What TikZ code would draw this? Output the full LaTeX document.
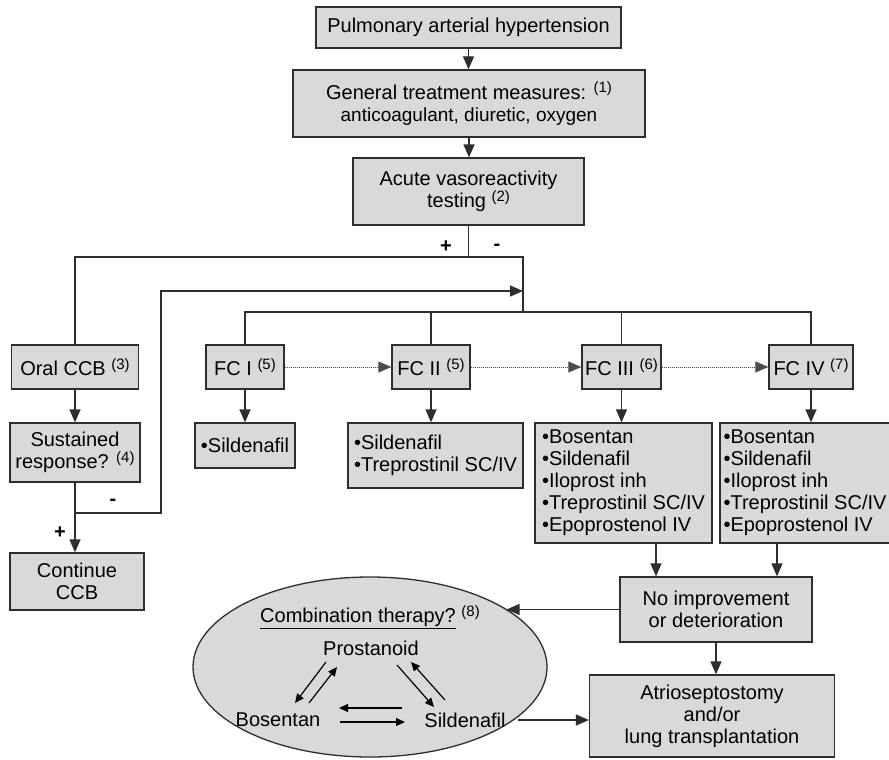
\documentclass[tikz,border=0pt]{standalone}
\usepackage{fontspec}
\setmainfont{Liberation Sans}
\usetikzlibrary{arrows.meta,shapes.geometric,calc}
\definecolor{boxgray}{HTML}{D9D9D9}
\definecolor{linegray}{HTML}{2E2E2E}
\newcommand{\fsz}{\fontsize{20}{22}\selectfont}
\newcommand{\sups}[1]{\raisebox{6.5pt}{\fontsize{15}{15}\selectfont #1}}
\begin{document}
\begin{tikzpicture}[x=1pt,y=-1pt,
  box/.style={draw=linegray, line width=1.3pt, fill=boxgray, inner sep=0pt, align=center, font=\fsz},
  conn/.style={draw=linegray, line width=1.3pt},
  arr/.style={conn, -{Triangle[length=13pt,width=11pt]}},
  dots/.style={draw=black!70, line width=0.8pt, dash pattern=on 1pt off 1pt, -{Triangle[length=13pt,width=11pt]}},
  small/.style={draw=black, line width=1.2pt, -{Triangle[length=9pt,width=8pt]}},
  lbl/.style={font=\fsz, inner sep=0pt}]
\clip (0,0) rectangle (889,760);
\fill[white] (0,0) rectangle (889,760);

% top chain
\node[box, minimum width=305, minimum height=41] (pah) at (468.5,27.5) {Pulmonary arterial hypertension};
\node[box, minimum width=352, minimum height=67] (gen) at (469,103.5) {General treatment measures: \sups{(1)}\\{\fontsize{19}{22}\selectfont anticoagulant, diuretic, oxygen}};
\node[box, minimum width=231, minimum height=67] (avt) at (468.5,191.5) {Acute vasoreactivity\\testing \sups{(2)}};

\coordinate (j0) at (468.5,257);
\coordinate (jr) at (523,257);
\coordinate (bus) at (523,312);
\coordinate (ret) at (523,291);
\coordinate (lpc) at (161,291);
\coordinate (lp) at (75,513);

% left branch
\node[box, minimum width=127, minimum height=44] (occ) at (75,367) {Oral CCB \sups{(3)}};
\node[box, minimum width=130, minimum height=59] (sus) at (75,452.5) {Sustained\\response? \sups{(4)}};
\node[box, minimum width=134, minimum height=57] (cont) at (77,581.5) {Continue\\CCB};

% FC row
\node[box, minimum width=78, minimum height=44] (fc1) at (245,367) {FC I \sups{(5)}};
\node[box, minimum width=100, minimum height=45] (d1) at (245,445.5) {•Sildenafil};
\node[box, minimum width=78, minimum height=44] (fc2) at (431,367) {FC II \sups{(5)}};
\node[box, minimum width=175, minimum height=65, align=left] (d2) at (435.5,455.5) {•Sildenafil\\•Treprostinil SC/IV};
\node[box, minimum width=79, minimum height=44] (fc3) at (621.5,367) {FC III \sups{(6)}};
\node[box, minimum width=177, minimum height=120, align=left] (d3) at (623.5,483) {•Bosentan\\•Sildenafil\\•Iloprost inh\\•Treprostinil SC/IV\\•Epoprostenol IV};
\node[box, minimum width=84, minimum height=44] (fc4) at (811,367) {FC IV \sups{(7)}};
\node[box, minimum width=170, minimum height=120, align=left] (d4) at (805,483) {•Bosentan\\•Sildenafil\\•Iloprost inh\\•Treprostinil SC/IV\\•Epoprostenol IV};

% bottom
\node[box, minimum width=192, minimum height=65] (noi) at (716,609.5) {No improvement\\or deterioration};
\node[box, minimum width=245, minimum height=82] (atr) at (712,716) {Atrioseptostomy\\and/or\\lung transplantation};
\node[draw=linegray, line width=1.3pt, fill=boxgray, ellipse, minimum width=354, minimum height=180, inner sep=0pt] (ell) at (370,667) {};
\node[lbl] (ct) at (370,617) {\underline{Combination therapy?} \sups{(8)}};
\node[lbl] (pro) at (371,648) {Prostanoid};
\node[lbl] (bos) at (278,720) {Bosentan};
\node[lbl] (sil) at (465,720) {Sildenafil};

% labels
\node[lbl, font=\fsz\bfseries] (lp1) at (446,247) {+};
\node[lbl, font=\fsz\bfseries] (lm1) at (497,247) {-};
\node[lbl, font=\fsz\bfseries] (lm2) at (113,502) {-};
\node[lbl, font=\fsz\bfseries] (lp2) at (60,533) {+};

% connectors
\draw[arr] (pah.south) -- (pah.south |- gen.north);
\draw[arr] (gen.south) -- (gen.south |- avt.north);
\draw[conn] (avt.south) -- (j0);
\draw[conn] (occ.north) |- (jr) -- (bus);
\draw[conn] (fc1.north) |- (bus) -| (fc4.north);
\draw[conn] (fc2.north) -- (fc2.north |- bus);
\draw[conn] (fc3.north) -- (fc3.north |- bus);
\draw[arr] (occ.south) -- (occ.south |- sus.north);
\draw[arr] (sus.south) -- (sus.south |- cont.north);
\draw[arr] (lp) -| (lpc) -- (ret);

\draw[dots] (fc1.east) -- (fc2.west);
\draw[dots] (fc2.east) -- (fc3.west);
\draw[dots] (fc3.east) -- (fc4.west);

\draw[arr] (fc1.south) -- (fc1.south |- d1.north);
\draw[arr] (fc2.south) -- (fc2.south |- d2.north);
\draw[arr] (fc3.south) -- (fc3.south |- d3.north);
\draw[arr] (fc4.south) -- (fc4.south |- d4.north);

\coordinate (n1) at ([xshift=-60pt]noi.north);
\coordinate (n2) at ([xshift=61pt]noi.north);
\draw[arr] (d3.south -| n1) -- (n1);
\draw[arr] (d4.south -| n2) -- (n2);
\draw[arr] (noi.west) -- (noi.west -| ell.23.25);
\draw[arr] (noi.south) -- (noi.south |- atr.north);
\draw[arr] ([xshift=12pt]sil.east) -- (sil.east -| atr.west);

% arrows inside ellipse
\draw[small] (326,662) -- (295,703);
\draw[small] (309,703) -- (337,667);
\draw[small] (397,665) -- (434,707);
\draw[small] (445,700) -- (411,662);
\draw[small] (402,708) -- (339,708);
\draw[small] (340,722) -- (405,722);
\end{tikzpicture}
\end{document}
